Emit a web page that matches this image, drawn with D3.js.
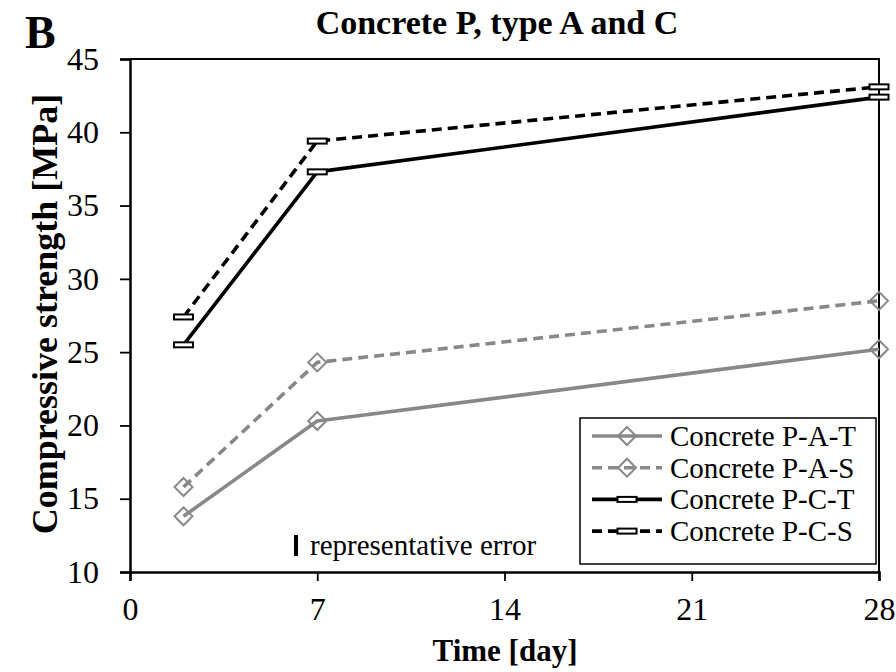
<!DOCTYPE html>
<html>
<head>
<meta charset="utf-8">
<script src="https://cdn.jsdelivr.net/npm/d3@7/dist/d3.min.js"></script>
<style>
  html, body { margin: 0; padding: 0; background: #fff; }
  svg { display: block; }
  text { font-family: "Liberation Serif", "Times New Roman", "DejaVu Serif", serif; fill: #000; }
</style>
</head>
<body>
<svg id="chart" width="896" height="672"></svg>
<script>
// Compressive strength of concrete P, types A and C, over curing time
const days = [2, 7, 28];
const seriesNames = ["Concrete P-A-T", "Concrete P-A-S", "Concrete P-C-T", "Concrete P-C-S"];
const strengthPAT = [13.8, 20.3, 25.2];
const strengthPAS = [15.8, 24.3, 28.5];
const strengthPCT = [25.5, 37.3, 42.4];
const strengthPCS = [27.4, 39.4, 43.1];
const xTicks = [0, 7, 14, 21, 28];
const yTicks = [10, 15, 20, 25, 30, 35, 40, 45];

const series = [
  { name: seriesNames[0], values: strengthPAT, color: "#888888", dash: null, marker: "diamond" },
  { name: seriesNames[1], values: strengthPAS, color: "#888888", dash: "10,6", marker: "diamond" },
  { name: seriesNames[2], values: strengthPCT, color: "#000000", dash: null, marker: "bar" },
  { name: seriesNames[3], values: strengthPCS, color: "#000000", dash: "10,6", marker: "bar" }
];

const svg = d3.select("#chart");
const plot = { left: 130, right: 879, top: 59, bottom: 572 };

const x = d3.scaleLinear().domain([0, 28]).range([plot.left, plot.right]);
const y = d3.scaleLinear().domain([10, 45]).range([plot.bottom, plot.top]);

// frame (top and right edges)
svg.append("path")
  .attr("d", `M${plot.left},${plot.top}H${plot.right}V${plot.bottom}`)
  .attr("fill", "none").attr("stroke", "#000").attr("stroke-width", 2);

// axes
const yAxis = svg.append("g")
  .attr("transform", `translate(${plot.left},0)`)
  .call(d3.axisLeft(y).tickValues(yTicks).tickSize(10).tickPadding(21).tickFormat(d3.format("d")));
const xAxis = svg.append("g")
  .attr("transform", `translate(0,${plot.bottom})`)
  .call(d3.axisBottom(x).tickValues(xTicks).tickSize(9).tickPadding(16).tickFormat(d3.format("d")));

[yAxis, xAxis].forEach(g => {
  g.select(".domain").attr("stroke", "#000").attr("stroke-width", 2.5);
  g.selectAll(".tick line").attr("stroke", "#000").attr("stroke-width", 1.8);
  g.selectAll(".tick text")
    .style("font-family", '"Liberation Serif", "Times New Roman", "DejaVu Serif", serif')
    .style("font-size", "32px").attr("fill", "#000");
});

// series lines
const line = d3.line().x((d, i) => x(days[i])).y(d => y(d));
series.forEach(s => {
  svg.append("path")
    .datum(s.values)
    .attr("d", line)
    .attr("fill", "none")
    .attr("stroke", s.color)
    .attr("stroke-width", 3.6)
    .attr("stroke-dasharray", s.dash)
    .attr("stroke-linejoin", "round");
});

function drawMarker(g, s, cx, cy) {
  if (s.marker === "diamond") {
    const r = 9;
    g.append("path")
      .attr("d", `M${cx},${cy - r}L${cx + r},${cy}L${cx},${cy + r}L${cx - r},${cy}Z`)
      .attr("fill", "none").attr("stroke", s.color).attr("stroke-width", 2);
  } else {
    g.append("rect")
      .attr("x", cx - 9.5).attr("y", cy - 2.5)
      .attr("width", 19).attr("height", 5)
      .attr("fill", "#fff").attr("stroke", "#000").attr("stroke-width", 2);
  }
}

series.forEach(s => {
  const g = svg.append("g");
  s.values.forEach((v, i) => drawMarker(g, s, x(days[i]), y(v)));
});

// legend
const legend = svg.append("g");
legend.append("rect")
  .attr("x", 580).attr("y", 418).attr("width", 296).attr("height", 146)
  .attr("fill", "#fff").attr("stroke", "#000").attr("stroke-width", 1.5);
series.forEach((s, i) => {
  const ly = 436 + i * 31.7;
  legend.append("line")
    .attr("x1", 592).attr("x2", 662).attr("y1", ly).attr("y2", ly)
    .attr("stroke", s.color).attr("stroke-width", 3.6)
    .attr("stroke-dasharray", s.dash);
  drawMarker(legend, s, 627, ly);
  legend.append("text")
    .attr("x", 670).attr("y", ly).attr("dy", "0.34em")
    .style("font-size", "29px")
    .text(s.name);
});

// representative error marker
svg.append("line")
  .attr("x1", 296).attr("x2", 296).attr("y1", 535).attr("y2", 556)
  .attr("stroke", "#000").attr("stroke-width", 4);
svg.append("text")
  .attr("x", 310).attr("y", 555)
  .style("font-size", "29px")
  .text("representative error");

// titles
svg.append("text")
  .attr("x", 497).attr("y", 34).attr("text-anchor", "middle")
  .style("font-size", "34px").style("font-weight", "bold")
  .text("Concrete P, type A and C");
svg.append("text")
  .attr("x", 25).attr("y", 48)
  .style("font-size", "46px").style("font-weight", "bold")
  .text("B");
svg.append("text")
  .attr("x", 505).attr("y", 661).attr("text-anchor", "middle")
  .style("font-size", "31px").style("font-weight", "bold")
  .text("Time [day]");
svg.append("text")
  .attr("transform", "translate(57,314) rotate(-90)")
  .attr("text-anchor", "middle")
  .style("font-size", "36px").style("font-weight", "bold")
  .text("Compressive strength [MPa]");
</script>
</body>
</html>
